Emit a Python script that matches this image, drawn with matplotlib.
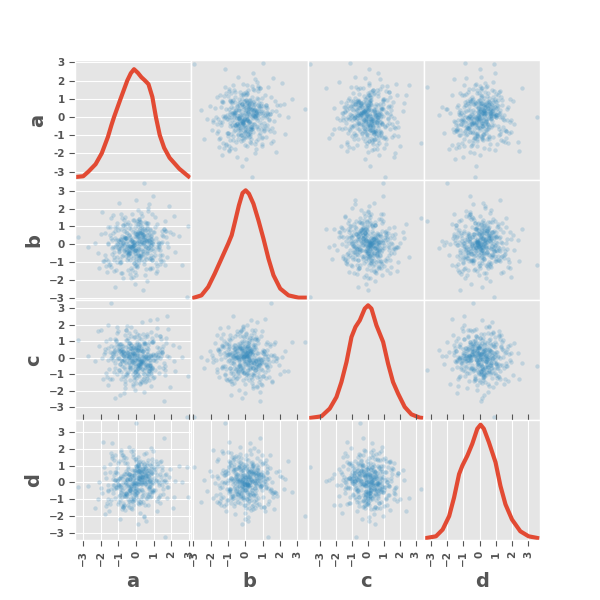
import matplotlib
matplotlib.use("Agg")
import matplotlib.pyplot as plt
import numpy as np

plt.style.use("ggplot")
plt.rcParams["font.weight"] = "bold"

names = ["a", "b", "c", "d"]

# sample values (one list per column)
a = [
    0.12, -0.87, 1.34, -0.05, 0.66, -1.72, 0.31, -0.44, 0.93, -1.18, 0.08, 0.57, -0.29, 1.61, -0.73, 0.41, -1.09, -0.16, 0.79, 2.21,
    -0.38, 0.95, -1.41, 0.22, -0.62, 0.03, 1.12, -0.91, 0.47, -0.19, -1.83, 0.71, 0.36, -0.55, 1.27, -0.08, 0.84, -2.34, 0.19, -0.67,
    0.58, -0.26, -1.02, 0.44, 1.76, -0.79, 0.14, -0.33, 0.89, -1.36, 0.27, -0.04, 0.62, -0.97, 1.19, -0.48, 0.09, -1.57, 0.76, -0.13,
    -0.71, 0.33, 1.48, -0.15, -0.84, 0.52, -0.41, 2.63, -1.23, 0.06, 0.98, -0.59, 0.24, -1.67, 0.69, -0.02, 1.07, -0.36, 0.42, -0.93,
    0.17, -1.14, 0.81, -0.51, 0.39, 1.53, -0.22, -0.76, 0.61, -0.07, -1.95, 0.29, 1.31, -0.64, 0.11, -0.39, 0.73, -1.29, 0.02, 0.91,
    -0.46, 0.67, -0.18, 1.22, -1.06, 0.35, -0.82, 0.04, 1.88, -0.31, 0.56, -0.69, -2.12, 0.21, -0.11, 0.86, -1.44, 0.49, -0.57, 0.13,
    1.03, -0.24, 0.46, -0.94, 0.18, -1.51, 0.72, -0.09, -0.63, 1.39, 0.26, -0.43, 0.83, -1.21, 0.07, 0.59, -0.35, 1.69, -0.78, -0.01,
    -0.53, 0.38, -1.33, 0.15, 0.77, -0.21, 1.16, -0.88, 0.43, -0.06, -1.62, 0.64, 0.23, -0.47, 2.09, -0.74, 0.01, 0.96, -1.11, 0.32,
    0.51, -0.99, 0.28, -0.14, 1.44, -0.58, 0.10, -2.71, 0.68, -0.34, 0.87, -1.26, 0.19, -0.45, 1.58, -0.81, 0.37, -0.03, -1.04, 0.74,
    -0.27, 0.82, -0.66, 0.05, 1.29, -1.47, 0.40, -0.12, 0.63, -0.86, 0.16, 1.83, -0.37, -1.19, 0.53, -0.05, 0.92, -0.61, 0.30, -1.78,
    0.21, -0.52, 1.09, -0.17, 0.70, -1.38, -0.28, 0.45, -0.92, 0.12, 1.36, -0.68, 0.34, -0.09, 2.42, -1.07, 0.55, -0.40, 0.80, -0.23,
    -0.83, 0.09, 0.60, -1.16, 0.25, -0.44, 1.71, -0.02, -0.75, 0.48, -1.59, 0.88, 0.14, -0.30, 1.14, -0.54, 0.36, -0.96, 0.03, 0.65,
    0.44, -0.20, -1.28, 0.78, 0.06, -0.65, 1.23, -0.39, 0.17, -1.87, 0.94, -0.10, 0.31, -0.80, 1.52, -0.49, -0.07, 0.69, -1.00, 2.88,
    -0.36, 0.57, -0.13, 1.01, -0.72, 0.24, -1.43, 0.39, -0.04, 0.85, -2.18, 0.11, -0.58, 1.33, 0.47, -0.89, 0.20, -0.25, 1.66, -1.13,
    0.72, -0.47, 0.13, -0.98, 1.41, 0.35, -0.16, -1.24, 0.58, -0.33, 0.97, -0.70, 0.05, 1.77, -0.52, 0.26, -1.52, -0.11, 0.62, 0.00,
    -0.60, 0.16, 1.18, -0.37, 0.51, -1.09, -0.19, 0.83, -0.85, 0.29, 1.46, -0.43, 0.08, -1.69, 0.66, -0.06, 0.40, -0.77, 2.16, -0.14,
    0.33, -0.91, 0.75, -0.08, -1.34, 0.54, 0.19, -0.50, 1.26, -0.23, 0.90, -1.97, 0.43, -0.64, 0.02, 1.59, -0.29, 0.71, -1.17, 0.18,
    -0.15, 1.06, -0.57, 0.37, -0.79, 0.10, 1.63, -1.31, 0.49, -0.41, 0.22, -0.95, 0.80, -3.31, 0.14, -0.32, 1.21, -0.67, 0.59, -0.03,
    0.86, -0.26, 0.04, -1.49, 0.63, -0.74, 1.37, 0.23, -0.12, -0.88, 0.46, 1.92, -1.05, 0.30, -0.45, 0.76, -0.18, -1.61, 0.07, 2.97,
    -0.42, 0.27, -1.20, 0.92, 0.12, -0.61, 1.11, -0.30, 0.52, -0.97, -0.08, 1.49, -0.55, 0.38, -1.76, 0.64, 0.01, -0.35, 0.87, -0.21,
]
b = [
    0.45, 0.21, -1.12, 0.63, -0.07, -0.84, 1.57, -0.36, 0.02, 0.98, -0.51, -1.39, -0.15, 0.74, -0.62, 0.29, 1.21, -1.86, 0.11, -0.43,
    -0.19, -0.72, 0.34, 1.05, -0.28, 0.56, -1.64, -0.03, 0.87, 0.12, -0.95, 2.26, -0.41, 0.69, -0.14, -1.22, 0.47, 0.05, -0.58, 1.33,
    0.81, -1.47, -0.23, 0.38, 0.09, -0.66, 1.42, -0.11, -0.89, 0.26, 0.60, -0.35, -2.05, 0.17, 1.13, -0.52, 0.43, -0.01, 0.77, -1.03,
    -0.31, 0.93, 0.15, -0.77, 1.68, -0.09, 0.52, -1.18, -0.44, 0.04, 0.71, -0.27, 1.26, -1.55, 0.36, 0.58, -0.62, -0.12, 3.44, -0.85,
    0.24, -0.06, -1.31, 0.65, 0.41, -0.93, 0.18, 1.09, -0.47, -0.21, 1.79, -0.68, 0.07, 0.89, -1.08, -0.33, 0.55, -0.16, -1.71, 0.30,
    -0.57, 1.19, 0.03, -0.25, -1.00, 0.79, 0.46, -0.40, 2.14, -0.13, -0.81, 0.28, -1.36, 0.62, 0.10, -0.05, 1.47, -0.70, 0.35, -0.22,
    0.67, -0.38, -0.94, 0.13, 1.31, 0.54, -0.18, -1.58, 0.42, 0.06, -0.60, 0.91, -0.29, -2.41, 0.20, 1.02, -0.49, 0.75, -0.08, -1.15,
    -0.02, 0.49, 1.61, -0.86, -0.34, 0.19, -1.25, 0.83, 0.31, -0.53, 0.08, 1.17, -0.74, -0.10, 0.57, -1.91, 0.39, -0.20, 0.96, 0.14,
    1.24, -0.45, 0.01, -1.06, 0.72, 0.37, -0.63, -0.17, 1.86, -0.30, 0.50, -0.90, 0.16, -1.42, 0.85, -0.04, -0.56, 2.47, 0.25, -0.79,
    -0.67, 0.11, 0.40, -1.27, -0.08, 0.94, -0.37, 1.38, 0.22, -0.99, 0.60, -0.14, -1.66, 0.33, 0.78, -0.47, 0.05, 1.11, -0.26, -0.60,
    0.36, -0.88, 1.50, 0.07, -0.19, -0.55, 0.84, -1.13, 0.27, 0.64, -0.32, -0.02, 1.01, -2.22, 0.46, -0.71, 0.18, 0.52, -1.37, -0.12,
    -0.24, 0.70, -0.50, -1.46, 0.13, 1.27, 0.41, -0.83, 0.04, -0.29, 0.97, 1.72, -0.66, 0.23, -1.03, -0.15, 0.59, -0.40, 0.09, 2.03,
    0.58, -0.11, -0.73, 0.88, -1.20, 0.32, 0.03, -0.46, 1.41, -0.92, 0.19, -0.06, 0.66, -1.60, 0.44, 1.14, -0.35, -0.22, 0.81, -2.97,
    -0.90, 0.26, 0.12, -0.37, 1.08, -0.64, -1.29, 0.51, 0.74, -0.03, -0.48, 1.93, 0.35, -0.81, 0.06, -1.08, 0.62, -0.17, 1.32, 0.21,
    0.09, -0.58, 1.15, -0.27, -0.96, 0.43, 0.69, -1.51, -0.13, 0.30, 2.69, -0.41, 0.55, -0.70, 0.17, 1.23, -1.14, -0.05, 0.92, -0.32,
    -0.44, 0.80, -0.16, 0.38, -1.74, 0.02, 1.36, -0.61, 0.27, -0.87, 0.49, -0.09, 1.04, -1.22, 0.71, -0.34, -0.52, 0.14, 1.58, -0.03,
    0.63, -1.01, 0.20, 0.47, -0.23, 1.19, -0.76, -0.42, 0.10, 1.67, -1.33, 0.56, -0.07, 0.34, -0.95, 0.83, -1.89, 0.24, -0.18, 0.41,
    -0.12, 0.95, -0.69, 0.05, 1.45, -0.31, -1.17, 0.61, 0.22, -0.50, 0.01, 2.31, -0.84, 0.39, -0.26, 1.06, -1.48, 0.73, 0.16, -0.65,
    0.28, -0.21, 1.28, -1.10, 0.52, 0.08, -0.59, 0.87, -0.38, -1.63, 0.15, 0.66, -0.01, 1.76, -0.78, 0.32, -0.29, -0.97, 0.48, 1.00,
    -0.53, 0.18, 0.76, -0.89, -0.10, 1.55, 0.37, -1.35, 0.45, -0.20, 0.99, -0.63, 0.07, -2.56, 0.60, -0.36, 1.21, 0.13, -0.75, 0.29,
]
c = [
    -0.62, -0.14, 0.37, 1.28, 0.05, -0.91, -1.45, 0.73, 0.20, -0.33, 0.58, -0.07, 1.84, -0.50, -1.12, 0.41, 0.86, -0.26, 0.11, -0.79,
    0.92, -1.23, -0.04, 0.47, -0.68, 0.16, 1.39, -0.39, -2.09, 0.64, 0.25, -0.82, 0.03, 1.07, -0.55, 0.31, -1.70, -0.18, 0.79, 0.10,
    -0.35, 0.52, 1.63, -0.97, 0.08, -0.21, 0.69, -1.34, -0.60, 0.27, 1.15, -0.10, 0.44, -0.77, 2.38, -0.02, -1.06, 0.58, -0.45, 0.19,
    0.12, -0.71, 0.35, -1.58, 0.83, 1.24, -0.29, 0.06, -0.88, 0.50, -0.16, 1.71, -0.47, -1.19, 0.22, 0.66, -0.03, -0.60, 0.95, -2.27,
    -0.09, 1.02, -0.52, 0.30, -1.29, 0.74, -0.19, 0.43, 1.47, -0.84, 0.01, -0.37, 0.61, -1.62, 0.17, 0.89, -0.73, 0.24, -0.12, 1.19,
    0.55, -0.43, -1.00, 0.14, 1.89, -0.24, 0.38, -0.66, 0.07, 1.32, -1.41, -0.15, 0.71, -0.56, 0.29, -0.93, 3.33, 0.04, -0.30, 0.48,
    -1.15, 0.20, 0.81, -0.36, -0.05, 1.11, -0.79, 0.46, -1.83, 0.13, 0.60, -0.27, 1.56, -0.61, 0.02, -1.08, 0.39, 0.91, -0.18, -0.48,
    0.34, -0.95, 0.09, 1.36, -0.41, -0.12, 0.67, -1.26, 0.53, -0.70, 2.01, 0.23, -0.32, -0.85, 0.76, 0.15, -1.52, 1.04, -0.08, 0.42,
    -0.54, 0.85, -0.20, -1.37, 0.28, 1.66, -0.63, 0.11, -0.01, 0.57, -1.04, 0.36, -0.44, 1.21, -2.62, 0.70, 0.18, -0.83, 0.49, -0.11,
    0.79, 0.06, -0.58, 1.43, -0.90, 0.32, -0.17, -1.18, 0.62, 0.21, -0.40, 1.77, -0.69, 0.45, -1.47, 0.03, 0.98, -0.25, -0.07, 0.37,
    -0.28, 1.09, 0.16, -0.76, 0.54, -1.31, -0.09, 0.88, 0.40, -0.50, 1.30, -2.14, 0.26, -0.13, 0.65, -0.97, 0.10, 1.52, -0.62, 0.01,
    0.47, -0.35, -1.22, 0.20, 0.73, -0.06, 1.18, -0.81, 0.33, -0.46, -1.66, 0.94, 0.08, 0.59, -0.22, 1.91, -0.70, -0.02, 0.27, -1.01,
    -0.74, 0.29, 0.63, -0.15, -0.97, 1.40, 0.05, -0.53, 0.82, -1.28, 0.17, -0.33, 2.19, 0.51, -0.64, 0.12, -1.10, 0.76, -0.04, -3.60,
    0.22, -0.60, 1.27, -0.11, 0.44, -1.53, 0.69, -0.30, -0.87, 0.09, 1.61, -0.42, 0.35, -0.01, -1.20, 0.84, -0.19, 0.57, -0.72, 1.05,
    -0.41, 0.15, -0.88, 0.61, 1.12, -0.23, -1.74, 0.40, 0.02, -0.57, 0.93, 0.26, -0.14, 2.56, -1.03, 0.48, -0.68, 0.11, 1.34, -0.37,
    0.66, -1.12, 0.04, -0.45, 0.87, 1.53, -0.26, -0.79, 0.30, -1.43, 0.55, 0.13, -0.06, 1.00, -0.61, -1.95, 0.39, 0.74, -0.20, 0.23,
    -0.17, 0.51, -1.35, 0.78, 0.07, -0.38, 1.22, -0.92, 0.36, 0.19, -0.55, 1.69, -0.10, -1.16, 0.62, -0.31, 0.01, 0.97, -2.41, 0.44,
    0.31, -0.77, 0.12, 1.47, -0.49, 0.68, -1.04, -0.16, 0.85, 0.03, -1.59, 0.42, -0.29, 1.10, -0.65, 0.24, 1.82, -0.08, -0.90, 0.56,
    -0.66, 0.39, 0.94, -1.27, -0.03, 0.18, 1.35, -0.44, 0.60, -0.86, 0.10, -1.78, 0.71, -0.21, 0.28, 2.27, -0.52, -0.12, 0.83, -1.09,
    0.07, -0.31, 1.16, -0.59, 0.49, -1.40, 0.21, 0.80, -0.16, -0.74, 1.62, 0.35, -0.99, 0.02, 0.55, -0.47, -1.23, 0.90, 0.14, -0.28,
]
d = [
    1.07, -0.18, 0.52, -0.74, -1.33, 0.26, 0.03, 0.89, -0.46, 1.62, -0.09, -0.95, 0.41, 0.15, -1.21, 0.68, -0.30, 1.93, -0.57, 0.11,
    -0.24, 0.77, -1.06, 0.36, 0.01, -0.63, 1.29, -2.16, 0.49, -0.12, 0.92, -0.41, 0.18, 1.44, -0.85, -0.05, 0.60, -1.52, 0.28, -0.35,
    0.44, -0.70, 1.17, 0.07, -0.29, -1.39, 0.83, 0.22, -0.52, 2.34, -0.97, 0.12, 0.65, -0.16, -1.68, 0.39, 1.03, -0.44, -0.02, 0.71,
    -0.81, 0.30, -0.13, 1.51, -0.59, 0.94, -1.12, 0.05, 0.46, -0.37, 1.86, -0.71, 0.17, -1.25, 0.58, -0.06, 0.80, -0.48, -1.99, 0.24,
    0.63, -0.27, -0.88, 0.14, 1.23, -0.42, 0.37, -1.47, 0.09, 0.73, -0.62, 1.10, -0.15, 0.51, -1.03, 2.12, -0.33, 0.20, -0.76, 0.02,
    -0.49, 1.35, 0.19, -0.94, 0.56, -0.08, -1.60, 0.87, 0.31, -0.23, 1.73, -0.67, 0.04, -1.17, 0.45, 0.96, -0.40, -0.11, 0.68, -2.48,
    0.27, -0.55, 0.99, -0.19, -1.28, 0.62, 0.10, 1.41, -0.79, 0.33, -0.04, -1.44, 0.81, 0.16, -0.60, 1.14, -0.34, 0.48, -0.90, 3.54,
    -0.14, 0.85, -0.66, 1.21, 0.06, -1.09, 0.43, -0.30, 1.67, -0.52, -0.98, 0.25, 0.70, -0.07, -1.55, 0.38, 1.00, -0.43, 0.13, -0.82,
    0.54, -1.18, 0.29, -0.05, 0.91, -0.61, 1.48, -0.22, -0.84, 0.17, 2.05, -0.39, 0.66, -1.32, 0.08, -0.47, 0.78, 1.26, -0.16, -0.72,
    -0.33, 0.48, -1.41, 0.72, -0.01, 1.09, -0.56, 0.23, -0.91, 1.79, 0.11, -0.25, -1.15, 0.59, 0.34, -0.69, 1.38, -0.12, 0.03, -1.87,
    0.86, 0.12, -0.47, -1.01, 0.40, 1.55, -0.20, 0.65, -0.78, -0.07, 1.20, -1.36, 0.30, -0.54, 0.97, 0.06, -2.29, 0.52, -0.28, 0.75,
    -0.62, 1.02, 0.21, -0.36, -1.24, 0.79, 0.00, -0.88, 1.62, 0.44, -0.15, -0.60, 0.92, -1.51, 0.16, 0.57, -0.43, 1.28, -0.09, 0.35,
    0.15, -0.93, 1.34, -0.24, 0.61, -1.63, 0.08, 0.47, -0.51, 2.42, -0.04, -1.07, 0.74, 0.27, -0.67, 1.16, -0.31, 0.02, -1.29, 0.89,
    -0.45, 0.36, -0.17, 0.94, -1.46, 0.13, 1.74, -0.73, 0.55, -0.10, -0.99, 0.69, 0.22, -1.20, 1.07, -0.38, 0.41, -0.02, -3.26, 0.60,
    0.73, -0.30, 0.07, -0.81, 1.25, 0.50, -1.34, -0.13, 0.88, 0.32, -0.58, 1.53, -0.06, -0.95, 0.19, 0.64, -1.72, 0.42, -0.21, 1.00,
    -0.70, 0.26, 1.12, -0.48, -0.03, 0.83, -1.13, 0.58, 1.95, -0.37, 0.10, -0.64, 0.46, -1.42, 0.76, -0.18, 0.29, 1.31, -0.85, 0.04,
    0.38, -1.05, -0.26, 0.67, 1.46, -0.11, 0.20, -0.77, 0.99, -1.58, 0.53, -0.35, 0.05, 1.18, -0.63, 2.61, -0.92, 0.31, 0.14, -0.44,
    -0.06, 0.60, -0.83, 0.28, 1.60, -1.23, 0.41, -0.15, 0.81, -0.50, -1.84, 0.18, 1.03, -0.29, 0.70, 0.09, -1.10, 0.47, -0.68, 1.40,
    0.21, -0.41, 0.95, -1.30, 0.56, 0.02, -0.74, 1.27, -0.20, 0.39, -2.07, 0.80, -0.08, 0.62, -1.00, 0.13, 1.69, -0.53, 0.25, -0.87,
    0.49, -0.12, -0.96, 1.15, 0.34, -0.65, 0.07, 1.87, -1.37, 0.23, -0.45, 0.74, -0.03, -1.19, 0.58, 1.04, -0.31, 0.17, -0.79, 0.42,
]
columns = [a, b, c, d]

kde_a_x = [-3.31, -3.0, -2.7, -2.3, -1.95, -1.6, -1.4, -1.25, -0.88, -0.5, -0.3, -0.12, 0.1, 0.3, 0.5, 0.7, 0.92, 1.12, 1.34, 1.59, 1.9, 2.45, 2.97]
kde_a_y = [-3.29, -3.26, -3.0, -2.6, -2.0, -1.1, -0.45, 0.0, 1.0, 2.0, 2.4, 2.62, 2.42, 2.18, 2.0, 1.8, 1.1, 0.0, -1.0, -1.7, -2.25, -2.85, -3.27]
kde_b_x = [-2.97, -2.54, -2.15, -1.77, -1.38, -0.99, -0.79, -0.6, -0.37, -0.16, 0.02, 0.21, 0.47, 0.76, 1.05, 1.34, 1.63, 2.02, 2.5, 3.08, 3.44]
kde_b_y = [-3.0, -2.87, -2.4, -1.65, -0.81, 0.03, 0.5, 1.25, 2.18, 2.87, 3.02, 2.83, 2.27, 1.34, 0.31, -0.81, -1.74, -2.49, -2.87, -3.0, -3.0]
kde_c_x = [-3.6, -2.9, -2.38, -1.96, -1.65, -1.33, -1.02, -0.77, -0.5, -0.19, 0.02, 0.23, 0.54, 0.96, 1.27, 1.58, 1.9, 2.31, 2.73, 3.25, 3.33]
kde_c_y = [-3.65, -3.55, -3.08, -2.38, -1.47, -0.25, 1.26, 1.87, 2.27, 2.98, 3.18, 2.98, 1.97, 0.96, -0.36, -1.47, -2.18, -2.98, -3.43, -3.63, -3.64]
kde_d_x = [-3.26, -2.68, -2.27, -1.87, -1.57, -1.26, -1.06, -0.75, -0.45, -0.14, 0.06, 0.26, 0.57, 0.98, 1.28, 1.59, 1.99, 2.5, 3.01, 3.54]
kde_d_y = [-3.31, -3.21, -2.81, -2.01, -0.91, 0.49, 0.99, 1.59, 2.29, 3.19, 3.43, 3.19, 2.39, 1.19, -0.21, -1.31, -2.21, -2.91, -3.21, -3.31]
kde_x = [kde_a_x, kde_b_x, kde_c_x, kde_d_x]
kde_y = [kde_a_y, kde_b_y, kde_c_y, kde_d_y]

ticks = [-3, -2, -1, 0, 1, 2, 3]

# axis limits like pandas: data range plus 5% padding
bounds = []
for col in columns:
    lo, hi = min(col), max(col)
    ext = (hi - lo) * 0.05 / 2
    bounds.append((lo - ext, hi + ext))

n = len(names)
fig, axes = plt.subplots(n, n, figsize=(6, 6), dpi=100)
fig.subplots_adjust(left=0.125, right=0.9, bottom=0.1, top=0.9, wspace=0, hspace=0)

for i in range(n):
    for j in range(n):
        ax = axes[i, j]
        if i == j:
            ax.plot(kde_x[i], kde_y[i], color="#E24A33", lw=3, solid_joinstyle="round")
        else:
            ax.scatter(columns[j], columns[i], s=10, color="#348ABD", alpha=0.22, linewidths=0)
        ax.set_xlim(bounds[j])
        ax.set_ylim(bounds[i])
        ax.set_xticks(ticks)
        ax.set_yticks(ticks)
        ax.set_xlabel(names[j], fontsize=14, fontweight="bold")
        ax.set_ylabel(names[i], fontsize=14, fontweight="bold")
        ax.tick_params(labelsize=7.5, length=4)
        if j != 0:
            ax.yaxis.set_visible(False)
        else:
            ax.tick_params(axis="y", left=True, right=False)
        if i != n - 1:
            ax.xaxis.set_visible(False)
        else:
            ax.tick_params(axis="x", top=True, bottom=True, labelrotation=90)

# the top-left diagonal gets plain text labels (hyphen minus)
axes[0, 0].set_yticklabels([str(t) for t in ticks])

fig.savefig("out.png", dpi=100)
